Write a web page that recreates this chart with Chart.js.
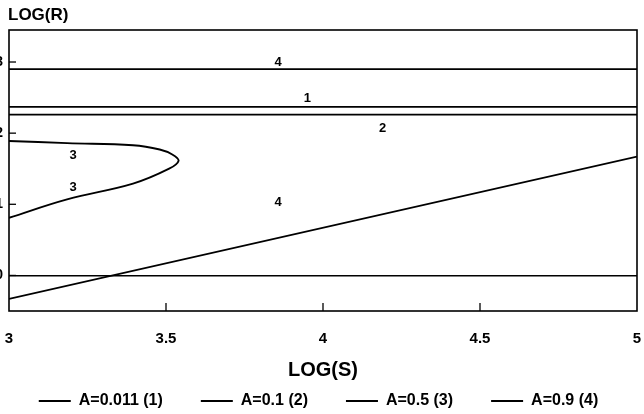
<!DOCTYPE html>
<html>
<head>
<meta charset="utf-8">
<script src="https://cdn.jsdelivr.net/npm/chart.js@4.4.0/dist/chart.umd.min.js"></script>
<style>
  html, body { margin: 0; padding: 0; background: #fff; }
  #wrap { position: relative; width: 644px; height: 414px; }
</style>
</head>
<body>
<div id="wrap"><canvas id="logChart"></canvas></div>
<script>
// ------- values -------
const seriesNames = ['A=0.011 (1)', 'A=0.1 (2)', 'A=0.5 (3)', 'A=0.9 (4)'];
const xTicks = [3, 3.5, 4, 4.5, 5];
const yTicks = [0, 1, 2, 3];

const curve1X = [3, 5];
const curve1Y = [2.37, 2.37];
const curve2X = [3, 5];
const curve2Y = [2.26, 2.26];
// curve 3: out along the upper branch to the nose, then back on the lower one
const curve3X = [3.0, 3.185, 3.395, 3.48, 3.52, 3.54, 3.51, 3.395, 3.185, 3.0];
const curve3Y = [1.89, 1.86, 1.83, 1.77, 1.70, 1.61, 1.50, 1.29, 1.07, 0.81];
// curve 4 has two pieces, the null breaks the line
const curve4X = [3, 5, 5, 3, 5];
const curve4Y = [2.9, 2.9, null, -0.33, 1.67];

// numbers written next to the curves
const markText = ['4', '1', '2', '3', '3', '4'];
const markX = [3.857, 3.95, 4.19, 3.204, 3.204, 3.857];
const markY = [3.0, 2.49, 2.06, 1.69, 1.24, 1.03];

const FONT = '"Liberation Sans", Arial, sans-serif';

function toPoints(xs, ys) {
  return xs.map((x, i) => ({ x: x, y: ys[i] }));
}

function lineSet(name, xs, ys, tension) {
  return {
    label: name,
    data: toPoints(xs, ys),
    borderColor: '#000',
    backgroundColor: '#000',
    borderWidth: 1.9,
    pointRadius: 0,
    showLine: true,
    fill: false,
    tension: tension,
    spanGaps: false
  };
}

// frame, inward tick marks, curve numbers and the LOG(R) heading
const decorPlugin = {
  id: 'decor',
  afterDatasetsDraw(chart) {
    const { ctx, chartArea: a, scales: { x, y } } = chart;
    ctx.save();
    ctx.strokeStyle = '#000';
    ctx.lineWidth = 1.6;
    ctx.strokeRect(a.left, a.top, a.right - a.left, a.bottom - a.top);

    ctx.lineWidth = 1.3;
    xTicks.slice(1, -1).forEach(v => {
      const px = x.getPixelForValue(v);
      ctx.beginPath();
      ctx.moveTo(px, a.bottom);
      ctx.lineTo(px, a.bottom - 8);
      ctx.stroke();
    });
    yTicks.forEach(v => {
      const py = y.getPixelForValue(v);
      ctx.beginPath();
      ctx.moveTo(a.left, py);
      ctx.lineTo(a.left + 7, py);
      ctx.stroke();
    });

    ctx.fillStyle = '#000';
    ctx.font = 'bold 13px ' + FONT;
    ctx.textAlign = 'center';
    ctx.textBaseline = 'middle';
    markText.forEach((t, i) => {
      ctx.fillText(t, x.getPixelForValue(markX[i]), y.getPixelForValue(markY[i]));
    });

    ctx.font = 'bold 17px ' + FONT;
    ctx.textAlign = 'left';
    ctx.fillText('LOG(R)', a.left - 1, 15);
    ctx.restore();
  }
};

const data = {
  datasets: [
    lineSet(seriesNames[0], curve1X, curve1Y, 0),
    lineSet(seriesNames[1], curve2X, curve2Y, 0),
    lineSet(seriesNames[2], curve3X, curve3Y, 0.4),
    lineSet(seriesNames[3], curve4X, curve4Y, 0)
  ]
};

const config = {
  type: 'scatter',
  data: data,
  options: {
    responsive: true,
    maintainAspectRatio: false,
    animation: false,
    layout: { padding: { top: 30, right: 7, left: 0, bottom: -5 } },
    scales: {
      x: {
        type: 'linear',
        min: 3,
        max: 5,
        afterBuildTicks: s => { s.ticks = xTicks.map(v => ({ value: v })); },
        // the wide legend eats room, so the axis box is kept short
        afterFit: s => { s.height = 44; },
        // invisible tick marks just push the labels down
        grid: { drawOnChartArea: false, drawTicks: true, tickLength: 19, tickColor: 'rgba(0,0,0,0)' },
        border: { display: false },
        ticks: {
          color: '#000',
          padding: 0,
          callback: v => String(v),
          font: { family: FONT, size: 15, weight: 'bold' }
        },
        title: {
          display: true,
          text: 'LOG(S)',
          color: '#000',
          font: { family: FONT, size: 20, weight: '600' },
          padding: { top: 0, bottom: -27 }
        }
      },
      y: {
        type: 'linear',
        min: -0.5,
        max: 3.45,
        afterBuildTicks: s => { s.ticks = yTicks.map(v => ({ value: v })); },
        afterFit: s => { s.width = 9; },
        grid: {
          drawTicks: false,
          lineWidth: 1.5,
          color: c => (c.tick && c.tick.value === 0 ? '#000' : 'rgba(0,0,0,0)')
        },
        border: { display: false },
        ticks: {
          color: '#000',
          padding: 6,
          callback: v => String(v),
          font: { family: FONT, size: 14, weight: 'bold' }
        }
      }
    },
    plugins: {
      legend: {
        position: 'bottom',
        labels: {
          color: '#000',
          boxWidth: 32,
          boxHeight: 0,
          padding: 38,
          font: { family: FONT, size: 16, weight: 'bold' }
        }
      },
      tooltip: { enabled: false }
    }
  },
  plugins: [decorPlugin]
};

myChart = new Chart(document.getElementById('logChart'), config);
</script>
</body>
</html>
